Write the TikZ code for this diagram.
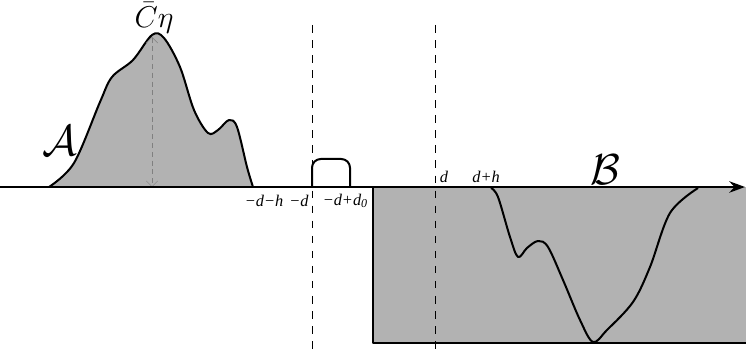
\documentclass[tikz,border=0pt]{standalone}
\usepackage{fontspec}
\newfontfamily\labfont{Liberation Serif}
\usetikzlibrary{arrows.meta}
\tikzset{curve/.style={thick,line join=round},
  lab/.style={font=\labfont\fontsize{6.5}{7}\selectfont\itshape,inner sep=1pt},
  guide/.style={thin,dashed}}
\newcommand{\subz}{\raisebox{-0.35ex}{\fontsize{4.8}{5}\selectfont 0}}

\begin{document}
\begin{tikzpicture}[x=0.014cm,y=-0.014cm]
\useasboundingbox (0,0) rectangle (747,352);

% region B below the axis
\fill[black!30] (373,187) rectangle (746,343);
\draw[curve] (373,187) -- (373,343) -- (746,343);

% mass A
\filldraw[curve,fill=black!30] plot[smooth,tension=0.55] coordinates {
  (49,187) (74,163) (100,102) (112,77) (133,60) (152,35) (164,38)
  (180,67) (194,110) (208,133) (218,130) (229,120) (237,127)
  (247,167) (253,187)};
\coordinate (peak) at (152,37);
\coordinate (foot) at (152,187);
\draw[black!50,very thin,dash pattern=on 2pt off 1.5pt,
  {Straight Barb[length=0.8mm]}-{Straight Barb[length=0.8mm]}] (peak) -- (foot);

% curve in B
\draw[curve] plot[smooth,tension=0.55] coordinates {
  (491,188) (498,197) (510,237) (518,257) (527,248) (538,241)
  (548,247) (563,280) (580,320) (593,342) (607,330) (633,302)
  (650,267) (670,213) (698,188)};

% small bump
\draw[curve,rounded corners=3.5pt] (312,187) -- (312,159) -- (350,159) -- (350,187);

% dashed guides
\draw[guide] (312,25) -- (312,352);
\draw[guide] (435,25) -- (435,352);

% axis
\draw[thick,-{Stealth[length=2.2mm,width=1.6mm]}] (0,187) -- (745,187);

% labels
\node[font=\LARGE] (la) at (60,141) {$\mathcal{A}$};
\node[font=\LARGE] (lb) at (605,170) {$\mathcal{B}$};
\node[font=\large,inner sep=0.5pt] (lc) at (154,18) {$\bar{C}\eta$};
\node[lab] (l1) at (264,201) {−d−h};
\node[lab] (l2) at (299,201) {−d};
\node[lab] (l3) at (345,201) {−d+d\subz};
\node[lab] (l4) at (444,177) {d};
\node[lab] (l5) at (486,177) {d+h};
\end{tikzpicture}
\end{document}
